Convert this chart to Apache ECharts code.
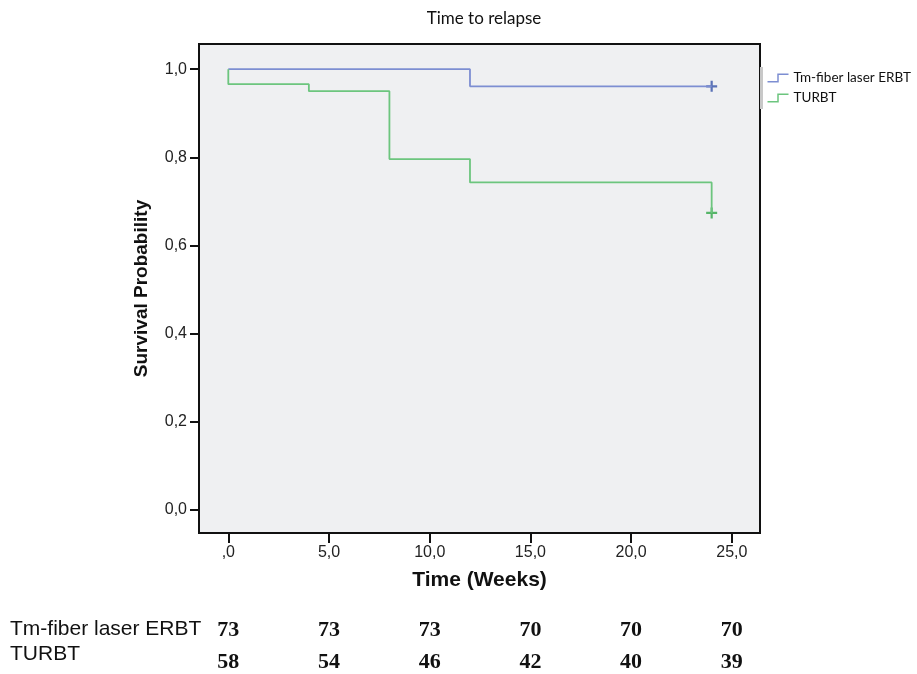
<!DOCTYPE html>
<html>
<head>
<meta charset="utf-8">
<title>Time to relapse</title>
<script src="https://cdn.jsdelivr.net/npm/echarts@6.0.0/dist/echarts.min.js"></script>
<style>
  html, body { margin: 0; padding: 0; background: #fff; }
  #chart { width: 917px; height: 674px; }
</style>
</head>
<body>
<div id="chart"></div>
<script>
  // Kaplan-Meier steps
  var laserTimes = [0, 12, 24]
  var laserSurv = [1.0, 0.961, 0.961]
  var turbtTimes = [0, 0, 4, 8, 12, 24]
  var turbtSurv = [1.0, 0.966, 0.950, 0.796, 0.743, 0.674]
  // censored marks
  var laserCensor = [[24, 0.961]]
  var turbtCensor = [[24, 0.674]]

  var xTicks = [0, 5, 10, 15, 20, 25]
  var yTicks = [0, 0.2, 0.4, 0.6, 0.8, 1.0]
  // number at risk under the axis
  var laserAtRisk = [73, 73, 73, 70, 70, 70]
  var turbtAtRisk = [58, 54, 46, 42, 40, 39]

  var names = ['Tm-fiber laser ERBT', 'TURBT']

  function pairs(xs, ys) {
    return xs.map(function (x, i) { return [x, ys[i]] })
  }
  // comma decimals like the original
  function fmt(v, lead) {
    var s = v.toFixed(1).replace('.', ',')
    if (!lead && s.indexOf('0,') === 0) s = s.slice(1)
    return s
  }

  var plus = 'path://M4,0H6V4H10V6H6V10H4V6H0V4H4Z'
  var stepIcon = 'path://M0,9L11,9L11,1L22,1'
  var sans = '"Liberation Sans", Arial, sans-serif'

  function countAxis(list, offset) {
    return {
      type: 'value', position: 'bottom', offset: offset,
      min: -1.455, max: 26.4,
      axisLine: { show: false, onZero: false }, axisTick: { show: false }, splitLine: { show: false },
      axisLabel: {
        customValues: xTicks, margin: 8,
        fontFamily: '"Liberation Serif", "Times New Roman", serif',
        fontWeight: 'bold', fontSize: 22, color: '#111',
        formatter: function (v) { return String(list[xTicks.indexOf(v)]) }
      }
    }
  }

  var chart = echarts.init(document.getElementById('chart'))
  chart.setOption({
    animation: false,
    title: {
      text: 'Time to relapse', left: 479, top: 5, textAlign: 'center',
      textStyle: { fontFamily: 'Lato, sans-serif', fontWeight: 'normal', fontSize: 17, color: '#111' }
    },
    legend: {
      orient: 'vertical', left: 765, top: 71, itemGap: 6,
      itemWidth: 21, itemHeight: 10, padding: 0,
      textStyle: { fontFamily: 'Lato, sans-serif', fontSize: 13.5, color: '#111' },
      data: [
        { name: names[0], icon: stepIcon, itemStyle: { color: 'none', borderColor: '#7d8ed2', borderWidth: 1.5 } },
        { name: names[1], icon: stepIcon, itemStyle: { color: 'none', borderColor: '#6cc57e', borderWidth: 1.5 } }
      ]
    },
    grid: {
      left: 199, top: 44, width: 561, height: 489,
      show: true, backgroundColor: '#eff0f2', borderColor: '#111', borderWidth: 2
    },
    xAxis: [{
      type: 'value', min: -1.455, max: 26.4,
      name: 'Time (Weeks)', nameLocation: 'middle', nameGap: 37,
      nameTextStyle: { fontFamily: sans, fontWeight: 'bold', fontSize: 21, color: '#111' },
      axisLine: { show: false, onZero: false },
      axisTick: { customValues: xTicks, length: 10, lineStyle: { color: '#111', width: 2 } },
      splitLine: { show: false },
      axisLabel: {
        customValues: xTicks, margin: 12, fontFamily: sans, fontSize: 16, color: '#222',
        formatter: function (v) { return fmt(v, false) }
      }
    }, countAxis(laserAtRisk, 78), countAxis(turbtAtRisk, 110)],
    yAxis: {
      type: 'value', min: -0.052, max: 1.057,
      name: 'Survival Probability', nameLocation: 'middle', nameGap: 48,
      nameTextStyle: { fontFamily: sans, fontWeight: 'bold', fontSize: 19, color: '#111' },
      axisLine: { show: false, onZero: false },
      axisTick: { customValues: yTicks, length: 9, lineStyle: { color: '#111', width: 2 } },
      splitLine: { show: false },
      axisLabel: {
        customValues: yTicks, margin: 12, fontFamily: sans, fontSize: 16, color: '#222',
        formatter: function (v) { return fmt(v, true) }
      }
    },
    graphic: [
      { type: 'rect', shape: { x: 760, y: 67, width: 3, height: 42 }, style: { fill: '#c8c8c8' } },
      { type: 'text', left: 10, top: 619, style: { text: names[0], font: '21px ' + sans, fill: '#111' } },
      { type: 'text', left: 10, top: 644, style: { text: names[1], font: '21px ' + sans, fill: '#111' } }
    ],
    series: [{
      name: names[0], type: 'line', step: 'end', symbol: 'none',
      data: pairs(laserTimes, laserSurv),
      lineStyle: { color: '#7d8ed2', width: 1.8 }, itemStyle: { color: '#7d8ed2' }
    }, {
      name: names[1], type: 'line', step: 'end', symbol: 'none',
      data: pairs(turbtTimes, turbtSurv),
      lineStyle: { color: '#6cc57e', width: 1.8 }, itemStyle: { color: '#6cc57e' }
    }, {
      name: names[0], type: 'scatter', symbol: plus, symbolSize: 11,
      data: laserCensor, itemStyle: { color: '#3552a8' }
    }, {
      name: names[1], type: 'scatter', symbol: plus, symbolSize: 11,
      data: turbtCensor, itemStyle: { color: '#2fa646' }
    }]
  })
</script>
</body>
</html>
